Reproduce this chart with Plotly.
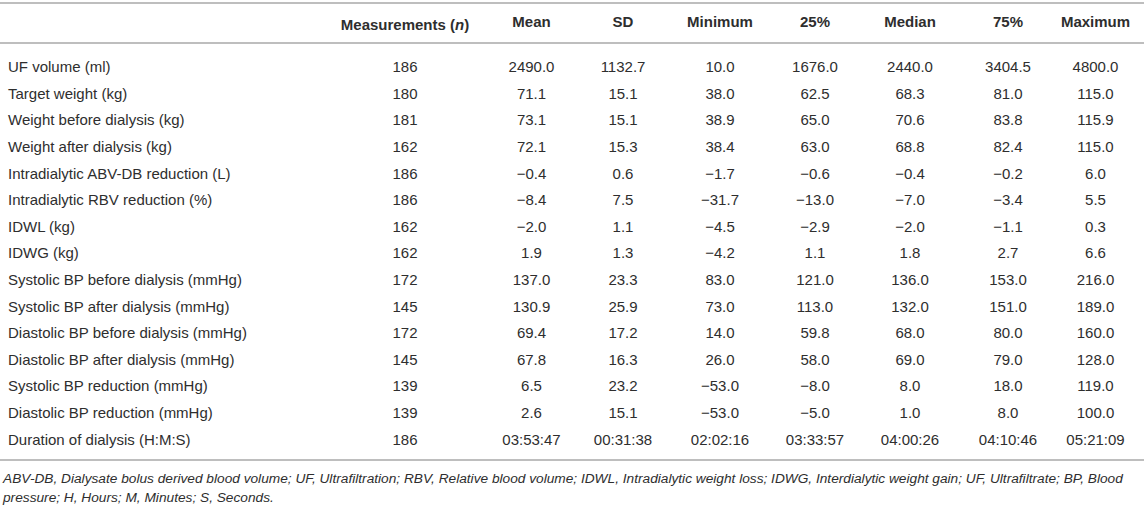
import plotly.graph_objects as go

W, H = 1144, 505

headers = ["", "Measurements\u00a0(<i>n</i>)", "Mean", "SD", "Minimum", "25%", "Median", "75%", "Maximum"]

variables = [
    "UF volume (ml)", "Target weight (kg)", "Weight before dialysis (kg)",
    "Weight after dialysis (kg)", "Intradialytic ABV-DB reduction (L)",
    "Intradialytic RBV reduction (%)", "IDWL (kg)", "IDWG (kg)",
    "Systolic BP before dialysis (mmHg)", "Systolic BP after dialysis (mmHg)",
    "Diastolic BP before dialysis (mmHg)", "Diastolic BP after dialysis (mmHg)",
    "Systolic BP reduction (mmHg)", "Diastolic BP reduction (mmHg)",
    "Duration of dialysis (H:M:S)",
]
n_meas = ["186", "180", "181", "162", "186", "186", "162", "162", "172", "145", "172", "145", "139", "139", "186"]
mean = ["2490.0", "71.1", "73.1", "72.1", "\u22120.4", "\u22128.4", "\u22122.0", "1.9", "137.0", "130.9", "69.4", "67.8", "6.5", "2.6", "03:53:47"]
sd = ["1132.7", "15.1", "15.1", "15.3", "0.6", "7.5", "1.1", "1.3", "23.3", "25.9", "17.2", "16.3", "23.2", "15.1", "00:31:38"]
minimum = ["10.0", "38.0", "38.9", "38.4", "\u22121.7", "\u221231.7", "\u22124.5", "\u22124.2", "83.0", "73.0", "14.0", "26.0", "\u221253.0", "\u221253.0", "02:02:16"]
q25 = ["1676.0", "62.5", "65.0", "63.0", "\u22120.6", "\u221213.0", "\u22122.9", "1.1", "121.0", "113.0", "59.8", "58.0", "\u22128.0", "\u22125.0", "03:33:57"]
median = ["2440.0", "68.3", "70.6", "68.8", "\u22120.4", "\u22127.0", "\u22122.0", "1.8", "136.0", "132.0", "68.0", "69.0", "8.0", "1.0", "04:00:26"]
q75 = ["3404.5", "81.0", "83.8", "82.4", "\u22120.2", "\u22123.4", "\u22121.1", "2.7", "153.0", "151.0", "80.0", "79.0", "18.0", "8.0", "04:10:46"]
maximum = ["4800.0", "115.0", "115.9", "115.0", "6.0", "5.5", "0.3", "6.6", "216.0", "189.0", "160.0", "128.0", "119.0", "100.0", "05:21:09"]

footnote_1 = ("ABV-DB, Dialysate bolus derived blood volume; UF, Ultrafiltration; RBV, Relative blood volume; "
              "IDWL, Intradialytic weight loss; IDWG, Interdialytic weight gain; UF, Ultrafiltrate; BP, Blood")
footnote_2 = "pressure; H, Hours; M, Minutes; S, Seconds."

FONT = "Liberation Sans, Arial, Helvetica, sans-serif"
TXT = "#2e2e2e"
RULE = "#a8a8a8"

col_widths = [332, 146, 107, 76, 118, 72, 118, 78, 97]


def ypx(p):
    return 1 - p / H


fig = go.Figure(go.Table(
    domain=dict(x=[0, 1], y=[0, ypx(8)]),
    columnwidth=col_widths,
    header=dict(
        values=headers,
        align=["left"] + ["center"] * 8,
        font=dict(family=FONT, size=15, color=TXT, weight="bold"),
        fill_color="white",
        line=dict(width=0, color="white"),
        height=45,
    ),
    cells=dict(
        values=[variables, n_meas, mean, sd, minimum, q25, median, q75, maximum],
        align=["left"] + ["center"] * 8,
        font=dict(family=FONT, size=15, color=TXT),
        fill_color="white",
        line=dict(width=0, color="white"),
        height=26.6,
    ),
))

for yp in (3, 43, 460):
    fig.add_shape(type="line", xref="paper", yref="paper", x0=0, x1=1,
                  y0=ypx(yp), y1=ypx(yp), line=dict(color=RULE, width=1.6))

for txt, yp in ((footnote_1, 478), (footnote_2, 497)):
    fig.add_annotation(text="<i>" + txt + "</i>", xref="paper", yref="paper",
                       x=0, y=ypx(yp), xanchor="left", yanchor="middle",
                       showarrow=False, font=dict(family=FONT, size=13.7, color=TXT))

fig.update_layout(width=W, height=H, margin=dict(l=0, r=0, t=0, b=0),
                  paper_bgcolor="white", plot_bgcolor="white", showlegend=False)

fig.write_html("out.html", config={"displayModeBar": False},
               post_script="document.body.style.margin='0';")
